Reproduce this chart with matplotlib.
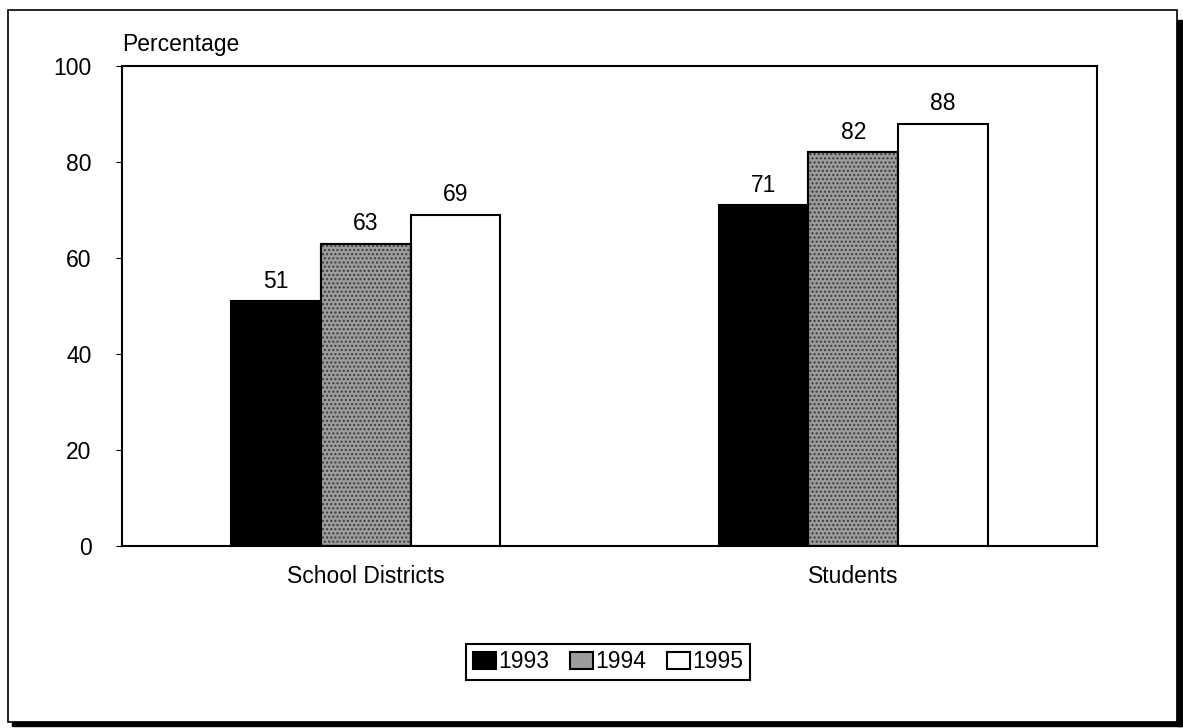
import matplotlib.pyplot as plt
from matplotlib.patches import Rectangle
import numpy as np

categories = ["School Districts", "Students"]
years = ["1993", "1994", "1995"]
values_1993 = [51, 71]
values_1994 = [63, 82]
values_1995 = [69, 88]

plt.rcParams['font.family'] = ['Liberation Sans', 'DejaVu Sans']
FS = 16.5

W, H = 1183, 728
fig = plt.figure(figsize=(W / 100, H / 100), dpi=100)
ax = fig.add_axes([122 / W, 1 - 546 / H, (1097 - 122) / W, (546 - 66) / H])

x = np.arange(len(categories))
width = 0.184
series = [values_1993, values_1994, values_1995]
faces = ["black", "#9c9c9c", "white"]

for i, (vals, fc) in enumerate(zip(series, faces)):
    pos = x + (i - 1) * width
    bars = ax.bar(pos, vals, width, color=fc, edgecolor="black", linewidth=1.5,
                  label=years[i], zorder=2)
    if i == 1:
        # speckled texture for the 1994 bars
        ax.bar(pos, vals, width, fill=False, edgecolor="#3a3a3a", hatch="....",
               linewidth=0, zorder=3)
        ax.bar(pos, vals, width, fill=False, edgecolor="black", linewidth=1.5, zorder=4)
    for b, v in zip(bars, vals):
        ax.annotate(str(v), (b.get_x() + b.get_width() / 2, v), xytext=(0, 6),
                    textcoords="offset points", ha="center", va="bottom", fontsize=FS)

ax.set_xlim(-0.5, 1.5)
ax.set_ylim(0, 100)
ax.set_yticks([0, 20, 40, 60, 80, 100])
ax.set_xticks(x)
ax.set_xticklabels(categories)
ax.tick_params(axis="y", labelsize=FS, length=4, width=0.8, pad=18)
ax.tick_params(axis="x", labelsize=FS, length=0, pad=14)
for s in ax.spines.values():
    s.set_linewidth(1.5)

ax.text(0, 1.02, "Percentage", transform=ax.transAxes, fontsize=FS,
        ha="left", va="bottom")

leg = ax.legend(loc="center", bbox_to_anchor=(608 / W, 1 - 662 / H),
                bbox_transform=fig.transFigure, ncol=3, fontsize=FS,
                frameon=True, fancybox=False, edgecolor="black", framealpha=1,
                handlelength=1.0, handleheight=0.8, handletextpad=0.1,
                columnspacing=0.9, borderpad=0.3)
leg.get_frame().set_linewidth(1.5)

# outer frame with drop shadow
fig.patches.append(Rectangle((8 / W, 1 - 722 / H), (1177 - 8) / W, (722 - 10) / H,
                             transform=fig.transFigure, fill=False,
                             edgecolor="black", linewidth=1.2))
fig.patches.append(Rectangle((1177 / W, 1 - 726 / H), 5 / W, (716 - 10) / H,
                             transform=fig.transFigure, color="black"))
fig.patches.append(Rectangle((12 / W, 1 - 726 / H), (1182 - 12) / W, 4 / H,
                             transform=fig.transFigure, color="black"))

fig.savefig("out.png", dpi=100)
